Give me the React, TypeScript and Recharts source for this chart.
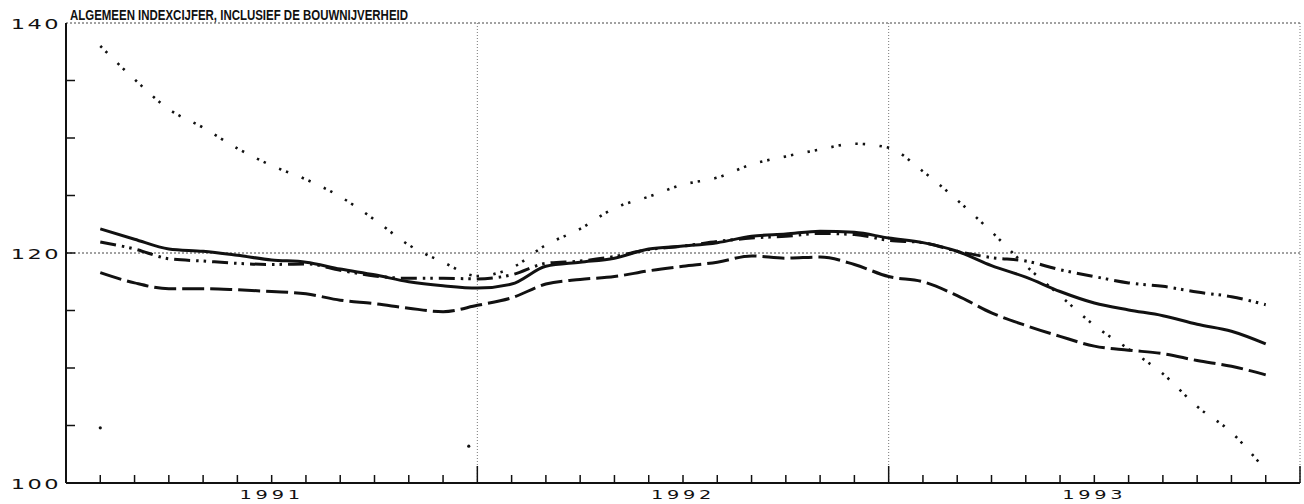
import React from 'react';
import { ComposedChart, Line, Scatter, XAxis, YAxis, ReferenceLine } from 'recharts';

// months after Jan 1991 (1 = end of Jan 1991 ... 35 = end of Nov 1993)
const months = [
  1, 2, 3, 4, 5, 6, 7, 8, 9, 10, 11, 12,
  13, 14, 15, 16, 17, 18, 19, 20, 21, 22, 23, 24,
  25, 26, 27, 28, 29, 30, 31, 32, 33, 34, 35,
];

const solidSeries = [
  122.1, 121.2, 120.35, 120.15, 119.8, 119.4, 119.2, 118.6, 118.1, 117.5, 117.15, 116.95,
  117.3, 118.85, 119.2, 119.55, 120.35, 120.6, 120.9, 121.45, 121.65, 121.9, 121.8, 121.3,
  120.9, 120.15, 118.9, 117.9, 116.65, 115.65, 115.05, 114.55, 113.8, 113.2, 112.1,
];

const dashedSeries = [
  118.3, 117.4, 116.9, 116.9, 116.8, 116.65, 116.45, 115.9, 115.6, 115.2, 114.9, 115.45,
  116.1, 117.3, 117.7, 117.95, 118.45, 118.85, 119.2, 119.75, 119.55, 119.65, 119.0, 117.95,
  117.5, 116.3, 114.8, 113.7, 112.75, 111.9, 111.55, 111.25, 110.65, 110.15, 109.4,
];

const dashDotSeries = [
  120.95, 120.35, 119.5, 119.3, 119.1, 119.0, 119.05, 118.5, 118.0, 117.8, 117.8, 117.75,
  118.1, 119.1, 119.3, 119.7, 120.3, 120.6, 121.0, 121.3, 121.45, 121.7, 121.6, 121.1,
  120.9, 120.15, 119.6, 119.3, 118.55, 117.95, 117.4, 117.1, 116.6, 116.2, 115.5,
];

const dottedSeries = [
  138.0, 135.1, 132.5, 130.9, 129.1, 127.6, 126.4, 124.9, 122.9, 120.7, 119.2, 118.0,
  118.7, 120.7, 122.1, 123.9, 124.9, 125.95, 126.55, 127.7, 128.4, 129.0, 129.5, 129.15,
  127.1, 124.6, 121.85, 118.9, 116.3, 113.7, 111.65, 109.5, 106.65, 104.4, 101.1,
];

// two loose points in the picture
const strayPoints = [
  { m: 1, v: 104.8 },
  { m: 11.75, v: 103.2 },
];

const monthTicks = Array.from({ length: 37 }, (_, i) => i);
const yearLabels = [
  { at: 6, text: '1991' },
  { at: 18, text: '1992' },
  { at: 30, text: '1993' },
];
const valueTicks = [100, 105, 110, 115, 120, 125, 130, 135, 140];
const valueLabels = [100, 120, 140];
const title = 'ALGEMEEN INDEXCIJFER, INCLUSIEF DE BOUWNIJVERHEID';

const rows = months.map((m, i) => ({
  m,
  solid: solidSeries[i],
  dashed: dashedSeries[i],
  dashDot: dashDotSeries[i],
  dotted: dottedSeries[i],
}));

const INK = '#111';
const labelFont = '"DejaVu Sans", sans-serif';

const XTick = (props: any) => {
  const { x, y, payload } = props;
  const v = payload.value;
  const isYear = v > 0 && v % 12 === 0;
  const label = yearLabels.find((l) => l.at === v);
  return (
    <g>
      {v > 0 && (
        <line x1={x} x2={x} y1={y} y2={y - (isYear ? 17 : 8)} stroke={INK} strokeWidth={1.5} />
      )}
      {label && (
        <text
          transform={`translate(${x},${y + 16}) scale(1.55,1)`}
          textAnchor="middle"
          fontFamily={labelFont}
          fontSize={12.5}
          fontWeight={500}
          letterSpacing={2.4}
          fill={INK}
        >
          {label.text}
        </text>
      )}
    </g>
  );
};

const YTick = (props: any) => {
  const { x, y, payload } = props;
  const v = payload.value;
  const showLabel = valueLabels.includes(v);
  return (
    <g>
      {v > 100 && v < 140 && (
        <line x1={x} x2={x + 9} y1={y} y2={y} stroke={INK} strokeWidth={1.5} />
      )}
      {showLabel && (
        <text
          transform={`translate(${x - 5},${y + 5.5}) scale(1.55,1)`}
          textAnchor="end"
          fontFamily={labelFont}
          fontSize={14.5}
          fontWeight={500}
          letterSpacing={1.6}
          fill={INK}
        >
          {v}
        </text>
      )}
    </g>
  );
};

export default function App() {
  return (
    <div style={{ position: 'absolute', left: 0, top: 0, width: 1304, height: 504, background: '#fff' }}>
      <ComposedChart
        width={1304}
        height={504}
        data={rows}
        margin={{ top: 23, right: 4, bottom: 0, left: 0 }}
      >
        <XAxis
          dataKey="m"
          type="number"
          domain={[0, 36]}
          ticks={monthTicks}
          interval={0}
          height={21}
          tickSize={0}
          tickMargin={0}
          tick={XTick}
          axisLine={{ stroke: INK, strokeWidth: 2 }}
          tickLine={false}
        />
        <YAxis
          type="number"
          domain={[100, 140]}
          ticks={valueTicks}
          interval={0}
          width={66}
          tickSize={0}
          tickMargin={0}
          tick={YTick}
          axisLine={{ stroke: INK, strokeWidth: 2 }}
          tickLine={false}
        />
        <ReferenceLine y={140} stroke="#444" strokeDasharray="2 2" strokeWidth={1} />
        <ReferenceLine y={120} stroke="#444" strokeDasharray="2 2" strokeWidth={1} />
        <ReferenceLine x={12} stroke="#777" strokeDasharray="1 2" strokeWidth={1} />
        <ReferenceLine x={24} stroke="#777" strokeDasharray="1 2" strokeWidth={1} />
        <ReferenceLine x={36} stroke="#777" strokeDasharray="1 2" strokeWidth={1} />
        <Line
          type="monotone"
          dataKey="dotted"
          stroke={INK}
          strokeWidth={2.6}
          strokeDasharray="2.4 5 2.4 14.5"
          dot={false}
          isAnimationActive={false}
        />
        <Line
          type="monotone"
          dataKey="dashed"
          stroke={INK}
          strokeWidth={3}
          strokeDasharray="22 6"
          dot={false}
          isAnimationActive={false}
        />
        <Line
          type="monotone"
          dataKey="dashDot"
          stroke={INK}
          strokeWidth={3}
          strokeDasharray="16 6 2.5 5 2.5 6"
          dot={false}
          isAnimationActive={false}
        />
        <Line
          type="monotone"
          dataKey="solid"
          stroke={INK}
          strokeWidth={3}
          dot={false}
          isAnimationActive={false}
        />
        <Scatter
          data={strayPoints}
          dataKey="v"
          fill={INK}
          shape={(p: any) => <circle cx={p.cx} cy={p.cy} r={1.6} fill={INK} />}
          isAnimationActive={false}
        />
      </ComposedChart>
      <svg
        width={1304}
        height={24}
        style={{ position: 'absolute', left: 0, top: 0, pointerEvents: 'none' }}
      >
        <text
          x={70}
          y={20}
          fontFamily='"Liberation Sans", Arial, sans-serif'
          fontWeight="bold"
          fontSize={14}
          textLength={338}
          lengthAdjust="spacingAndGlyphs"
          fill={INK}
        >
          {title}
        </text>
      </svg>
    </div>
  );
}
